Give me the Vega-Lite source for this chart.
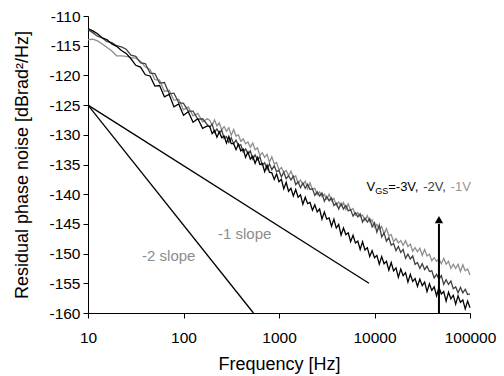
{
  "$schema": "https://vega.github.io/schema/vega-lite/v6.json",
  "width": 382,
  "height": 297,
  "autosize": "none",
  "padding": {"left": 88, "top": 16, "right": 34, "bottom": 63},
  "background": "white",
  "config": {
    "view": {"stroke": null},
    "font": "Liberation Sans",
    "axis": {
      "grid": false,
      "domainColor": "#000000",
      "tickColor": "#000000",
      "labelColor": "#000000",
      "titleColor": "#000000",
      "labelFont": "Liberation Sans",
      "titleFont": "Liberation Sans",
      "titleFontWeight": "normal",
      "labelFontSize": 15.5,
      "titleFontSize": 18,
      "tickSize": 5,
      "labelFlush": false,
      "labelOverlap": false
    }
  },
  "datasets": {
    "noise": [
      {"f":10,"a":-112.1,"b":-112.3,"c":-114.0},
      {"f":11.22,"a":-112.5,"b":-112.8,"c":-113.9},
      {"f":12.59,"a":-113.0,"b":-113.4,"c":-114.2},
      {"f":14.13,"a":-113.7,"b":-113.7,"c":-114.7},
      {"f":15.85,"a":-114.0,"b":-114.3,"c":-115.3},
      {"f":17.78,"a":-114.7,"b":-114.5,"c":-115.9},
      {"f":19.95,"a":-115.1,"b":-115.0,"c":-116.7},
      {"f":22.39,"a":-115.8,"b":-115.2,"c":-116.7},
      {"f":25.12,"a":-116.3,"b":-115.6,"c":-116.8},
      {"f":28.18,"a":-117.2,"b":-116.6,"c":-117.0},
      {"f":31.62,"a":-118.3,"b":-116.8,"c":-117.1},
      {"f":35.48,"a":-118.6,"b":-117.9,"c":-117.6},
      {"f":39.81,"a":-119.9,"b":-118.0,"c":-118.6},
      {"f":44.67,"a":-120.1,"b":-119.6,"c":-119.0},
      {"f":50.12,"a":-121.8,"b":-119.7,"c":-120.7},
      {"f":56.23,"a":-121.7,"b":-121.3,"c":-120.8},
      {"f":63.1,"a":-123.6,"b":-121.2,"c":-122.7},
      {"f":70.79,"a":-123.2,"b":-123.1,"c":-122.5},
      {"f":79.43,"a":-125.3,"b":-123.0,"c":-124.2},
      {"f":89.13,"a":-124.8,"b":-124.6,"c":-124.0},
      {"f":100,"a":-126.7,"b":-124.7,"c":-125.8},
      {"f":112.2,"a":-126.1,"b":-126.0,"c":-125.3},
      {"f":125.9,"a":-127.9,"b":-126.0,"c":-126.8},
      {"f":141.3,"a":-127.3,"b":-127.4,"c":-126.4},
      {"f":158.5,"a":-128.9,"b":-127.3,"c":-127.8},
      {"f":177.8,"a":-128.5,"b":-128.3,"c":-127.3},
      {"f":188.4,"a":-128.6,"b":-128.7,"c":-127.6},
      {"f":199.5,"a":-129.8,"b":-128.2,"c":-128.4},
      {"f":211.3,"a":-129.3,"b":-129.6,"c":-127.5},
      {"f":223.9,"a":-130.4,"b":-129.0,"c":-128.5},
      {"f":237.1,"a":-129.5,"b":-129.7,"c":-128.0},
      {"f":251.2,"a":-130.5,"b":-129.2,"c":-129.2},
      {"f":266.1,"a":-130.2,"b":-130.6,"c":-128.6},
      {"f":281.8,"a":-131.4,"b":-130.3,"c":-129.4},
      {"f":298.5,"a":-130.3,"b":-131.3,"c":-128.8},
      {"f":316.2,"a":-131.5,"b":-130.5,"c":-130.1},
      {"f":335,"a":-131.5,"b":-131.5,"c":-129.1},
      {"f":354.8,"a":-132.5,"b":-130.9,"c":-130.2},
      {"f":375.8,"a":-131.6,"b":-131.8,"c":-130.0},
      {"f":398.1,"a":-132.7,"b":-131.7,"c":-131.1},
      {"f":421.7,"a":-132.4,"b":-132.9,"c":-130.7},
      {"f":446.7,"a":-133.8,"b":-132.4,"c":-131.5},
      {"f":473.2,"a":-132.9,"b":-133.2,"c":-131.2},
      {"f":501.2,"a":-134.1,"b":-132.7,"c":-132.1},
      {"f":530.9,"a":-133.6,"b":-134.1,"c":-131.4},
      {"f":562.3,"a":-134.8,"b":-133.4,"c":-132.5},
      {"f":595.7,"a":-133.8,"b":-134.2,"c":-132.2},
      {"f":631,"a":-135.0,"b":-133.7,"c":-133.5},
      {"f":668.3,"a":-134.8,"b":-135.1,"c":-133.0},
      {"f":707.9,"a":-136.2,"b":-134.7,"c":-133.8},
      {"f":749.9,"a":-135.1,"b":-135.8,"c":-133.3},
      {"f":794.3,"a":-136.3,"b":-134.9,"c":-134.6},
      {"f":841.4,"a":-136.4,"b":-135.9,"c":-133.7},
      {"f":891.3,"a":-137.5,"b":-135.2,"c":-134.9},
      {"f":944.1,"a":-136.6,"b":-136.2,"c":-134.7},
      {"f":1000,"a":-137.9,"b":-136.0,"c":-135.9},
      {"f":1059,"a":-137.5,"b":-137.1,"c":-135.5},
      {"f":1122,"a":-139.1,"b":-136.3,"c":-136.3},
      {"f":1189,"a":-138.0,"b":-137.4,"c":-136.0},
      {"f":1259,"a":-139.5,"b":-136.9,"c":-136.9},
      {"f":1334,"a":-139.0,"b":-137.6,"c":-136.1},
      {"f":1413,"a":-140.3,"b":-137.0,"c":-137.2},
      {"f":1496,"a":-139.2,"b":-138.4,"c":-136.9},
      {"f":1585,"a":-140.5,"b":-137.9,"c":-138.2},
      {"f":1679,"a":-140.1,"b":-138.9,"c":-137.6},
      {"f":1778,"a":-141.7,"b":-138.1,"c":-138.4},
      {"f":1884,"a":-140.5,"b":-139.0,"c":-137.8},
      {"f":1995,"a":-141.6,"b":-138.3,"c":-139.1},
      {"f":2113,"a":-141.4,"b":-139.2,"c":-138.1},
      {"f":2239,"a":-142.7,"b":-139.1,"c":-139.2},
      {"f":2371,"a":-141.8,"b":-140.2,"c":-139.0},
      {"f":2512,"a":-143.0,"b":-139.6,"c":-140.1},
      {"f":2661,"a":-142.5,"b":-140.3,"c":-139.6},
      {"f":2818,"a":-144.2,"b":-139.8,"c":-140.4},
      {"f":2985,"a":-143.0,"b":-141.2,"c":-140.0},
      {"f":3162,"a":-144.2,"b":-140.4,"c":-140.8},
      {"f":3350,"a":-144.0,"b":-141.1,"c":-140.0},
      {"f":3548,"a":-145.4,"b":-140.6,"c":-141.1},
      {"f":3758,"a":-144.2,"b":-141.9,"c":-140.7},
      {"f":3981,"a":-145.7,"b":-141.5,"c":-141.9},
      {"f":4217,"a":-145.1,"b":-142.5,"c":-141.3},
      {"f":4467,"a":-146.9,"b":-141.6,"c":-142.0},
      {"f":4732,"a":-145.7,"b":-142.5,"c":-141.4},
      {"f":5012,"a":-146.8,"b":-141.9,"c":-142.6},
      {"f":5309,"a":-146.5,"b":-142.8,"c":-141.6},
      {"f":5623,"a":-148.0,"b":-142.6,"c":-142.7},
      {"f":5957,"a":-146.9,"b":-143.7,"c":-142.4},
      {"f":6310,"a":-148.2,"b":-143.1,"c":-143.5},
      {"f":6683,"a":-147.9,"b":-143.8,"c":-143.1},
      {"f":7079,"a":-149.3,"b":-143.3,"c":-143.8},
      {"f":7499,"a":-148.0,"b":-144.7,"c":-143.5},
      {"f":7943,"a":-149.4,"b":-144.0,"c":-144.4},
      {"f":8414,"a":-149.0,"b":-144.7,"c":-143.6},
      {"f":8913,"a":-150.5,"b":-144.1,"c":-144.7},
      {"f":9441,"a":-149.5,"b":-145.5,"c":-144.3},
      {"f":10000,"a":-150.7,"b":-144.8,"c":-145.6},
      {"f":10590,"a":-150.3,"b":-146.4,"c":-145.1},
      {"f":11220,"a":-151.8,"b":-145.2,"c":-145.9},
      {"f":11890,"a":-150.5,"b":-147.2,"c":-145.4},
      {"f":12590,"a":-151.7,"b":-146.5,"c":-146.7},
      {"f":13340,"a":-151.3,"b":-147.9,"c":-145.8},
      {"f":14130,"a":-152.8,"b":-147.3,"c":-147.0},
      {"f":14960,"a":-151.5,"b":-148.6,"c":-146.8},
      {"f":15850,"a":-152.9,"b":-148.3,"c":-148.0},
      {"f":16790,"a":-152.4,"b":-149.5,"c":-147.5},
      {"f":17780,"a":-154.0,"b":-148.8,"c":-148.2},
      {"f":18840,"a":-152.6,"b":-149.8,"c":-147.8},
      {"f":19950,"a":-153.7,"b":-149.3,"c":-148.6},
      {"f":21130,"a":-153.2,"b":-150.8,"c":-147.8},
      {"f":22390,"a":-154.8,"b":-150.1,"c":-148.8},
      {"f":23710,"a":-153.5,"b":-150.9,"c":-148.4},
      {"f":25120,"a":-154.7,"b":-150.4,"c":-149.6},
      {"f":26610,"a":-154.2,"b":-151.8,"c":-149.0},
      {"f":28180,"a":-155.5,"b":-151.5,"c":-149.7},
      {"f":29850,"a":-154.3,"b":-152.5,"c":-149.1},
      {"f":31620,"a":-155.4,"b":-151.7,"c":-150.3},
      {"f":33500,"a":-154.8,"b":-152.7,"c":-149.3},
      {"f":35480,"a":-156.4,"b":-152.1,"c":-150.4},
      {"f":37580,"a":-155.1,"b":-153.0,"c":-150.1},
      {"f":39810,"a":-156.2,"b":-152.9,"c":-151.2},
      {"f":42170,"a":-155.6,"b":-154.1,"c":-150.7},
      {"f":44670,"a":-157.1,"b":-153.5,"c":-151.3},
      {"f":47320,"a":-155.7,"b":-154.3,"c":-150.9},
      {"f":50120,"a":-156.8,"b":-153.7,"c":-151.7},
      {"f":53090,"a":-156.4,"b":-155.2,"c":-150.8},
      {"f":56230,"a":-158.0,"b":-154.4,"c":-151.8},
      {"f":59570,"a":-156.5,"b":-155.2,"c":-151.3},
      {"f":63100,"a":-157.6,"b":-154.6,"c":-152.5},
      {"f":66830,"a":-157.0,"b":-155.9,"c":-151.8},
      {"f":70790,"a":-158.5,"b":-155.6,"c":-152.5},
      {"f":74990,"a":-157.1,"b":-156.6,"c":-151.8},
      {"f":79430,"a":-158.2,"b":-155.7,"c":-153.0},
      {"f":84140,"a":-157.8,"b":-156.6,"c":-151.9},
      {"f":89130,"a":-159.3,"b":-156.0,"c":-152.9},
      {"f":94410,"a":-158.0,"b":-156.9,"c":-152.6},
      {"f":100000,"a":-159.1,"b":-156.8,"c":-153.6}
    ],
    "slopes": [
      {"f":10,"v":-125,"k":"-1"},
      {"f":8750,"v":-155,"k":"-1"},
      {"f":10,"v":-125,"k":"-2"},
      {"f":540,"v":-160,"k":"-2"}
    ],
    "arrow": [
      {"f":47300,"v":-160,"v2":-145}
    ],
    "head": [
      {"f":47300,"v":-144.3}
    ],
    "blackText": [
      {"f":8245,"v":-139.4,"t":"V"},
      {"f":13916,"v":-139.4,"t":"=-3V,"}
    ],
    "subText": [
      {"f":10170,"v":-139.9,"t":"GS"}
    ],
    "darkText": [
      {"f":32350,"v":-139.4,"t":"-2V,"}
    ],
    "grayLegend": [
      {"f":62640,"v":-139.4,"t":"-1V"}
    ],
    "slopeText": [
      {"f":229.7,"v":-147.6,"t":"-1 slope"},
      {"f":36.8,"v":-151.3,"t":"-2 slope"}
    ]
  },
  "encoding": {
    "x": {
      "field": "f",
      "type": "quantitative",
      "scale": {"type": "log", "domain": [10, 100000]},
      "axis": {
        "title": "Frequency [Hz]",
        "values": [10, 100, 1000, 10000, 100000],
        "format": "d",
        "labelPadding": 12,
        "titlePadding": 10
      }
    },
    "y": {
      "field": "v",
      "type": "quantitative",
      "scale": {"domain": [-160, -110]},
      "axis": {
        "title": "Residual phase noise [dBrad²/Hz]",
        "values": [-160, -155, -150, -145, -140, -135, -130, -125, -120, -115, -110],
        "labelExpr": "replace(datum.label, '\u2212', '-')",
        "labelPadding": 3,
        "titlePadding": 17
      }
    }
  },
  "layer": [
    {
      "data": {"name": "noise"},
      "transform": [{"fold": ["c", "b", "a"], "as": ["s", "v"]}],
      "mark": {"type": "line", "strokeWidth": 1.3, "interpolate": "linear"},
      "encoding": {
        "color": {
          "field": "s",
          "type": "nominal",
          "scale": {"domain": ["c", "b", "a"], "range": ["#8e8e8e", "#424242", "#000000"]},
          "legend": null
        }
      }
    },
    {
      "data": {"name": "slopes"},
      "mark": {"type": "line", "color": "#000000", "strokeWidth": 1.3},
      "encoding": {"detail": {"field": "k"}}
    },
    {
      "data": {"name": "arrow"},
      "mark": {"type": "rule", "color": "#000000", "strokeWidth": 2},
      "encoding": {"y2": {"field": "v2"}}
    },
    {
      "data": {"name": "head"},
      "mark": {"type": "point", "shape": "triangle-up", "filled": true, "color": "#000000", "opacity": 1, "size": 70},
      "encoding": {}
    },
    {
      "data": {"name": "blackText"},
      "mark": {"type": "text", "align": "left", "baseline": "alphabetic", "fontSize": 13, "color": "#000000"},
      "encoding": {"text": {"field": "t"}}
    },
    {
      "data": {"name": "subText"},
      "mark": {"type": "text", "align": "left", "baseline": "alphabetic", "fontSize": 9, "color": "#000000"},
      "encoding": {"text": {"field": "t"}}
    },
    {
      "data": {"name": "darkText"},
      "mark": {"type": "text", "align": "left", "baseline": "alphabetic", "fontSize": 13, "color": "#404040"},
      "encoding": {"text": {"field": "t"}}
    },
    {
      "data": {"name": "grayLegend"},
      "mark": {"type": "text", "align": "left", "baseline": "alphabetic", "fontSize": 13, "color": "#969696"},
      "encoding": {"text": {"field": "t"}}
    },
    {
      "data": {"name": "slopeText"},
      "mark": {"type": "text", "align": "left", "baseline": "alphabetic", "fontSize": 15, "color": "#8c8c8c"},
      "encoding": {"text": {"field": "t"}}
    }
  ]
}
